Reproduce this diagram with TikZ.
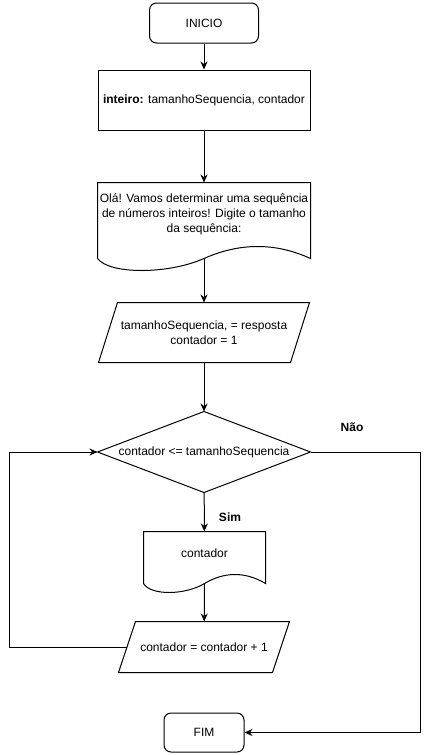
\documentclass[tikz,border=0pt]{standalone}
\usepackage{fontspec}
\setmainfont{Liberation Sans}
\usetikzlibrary{arrows.meta}

\begin{document}
\begin{tikzpicture}[x=1pt, y=-1pt,
                    line width=1pt,
                    every node/.style={font=\fontsize{12}{15}\selectfont, align=center},
                    terminal/.style={draw, rounded corners=7pt, minimum width=109pt, minimum height=40pt},
                    procbox/.style={draw, minimum width=212pt, minimum height=60pt},
                    shapebox/.style 2 args={minimum width=#1, minimum height=#2, inner sep=0pt},
                    flow/.style={-{Stealth[length=8pt, width=7pt]}}]
      \useasboundingbox (0,0) rectangle (430,755);
      \coordinate (back) at (9, 647);
      \coordinate (right) at (420, 452);
      \node[terminal] (inicio) at (204, 23) {INICIO};
      \node[procbox] (decl) at (204, 100) {\textbf{inteiro:} tamanhoSequencia, contador};
      \node[shapebox={212pt}{75pt}] (msg) at (204, 220.5) {};
      \node (msgtext) at (204, 214) {Olá! Vamos determinar uma sequência\\de números inteiros! Digite o tamanho\\da sequência:};
      \node[shapebox={191pt}{59pt}] (inp) at (204, 332.5) {tamanhoSequencia, = resposta\\contador = 1};
      \node[shapebox={212pt}{80pt}] (cond) at (204, 452) {contador <= tamanhoSequencia};
      \node[shapebox={121pt}{51pt}] (out) at (204.5, 557.5) {};
      \node (outtext) at (204.5, 553) {contador};
      \node[shapebox={153pt}{50pt}] (inc) at (204, 647) {contador = contador + 1};
      \node[terminal, minimum width=80pt, minimum height=39pt] (fim) at (204, 732.5) {FIM};
      \node (nao) at (352, 427) {\textbf{Não}};
      \node (sim) at (230, 517) {\textbf{Sim}};
      % document shapes
      \draw (msg.south west) -- (msg.north west) -- (msg.north east) -- (msg.south east)
            .. controls +(-35,-16) and +(36,-16) .. (msg.south)
            .. controls +(-36,16) and +(12,16) .. (msg.south west);
      \draw (out.south west) -- (out.north west) -- (out.north east) -- (out.south east)
            .. controls +(-20,-12) and +(20,-12) .. (out.south)
            .. controls +(-20,12) and +(7,12) .. (out.south west);
      % input shapes
      \draw ([xshift=9.5pt]inp.north west) -- ([xshift=9.5pt]inp.north east)
            -- ([xshift=-9.5pt]inp.south east) -- ([xshift=-9.5pt]inp.south west) -- cycle;
      \draw ([xshift=8.5pt]inc.north west) -- ([xshift=8.5pt]inc.north east)
            -- ([xshift=-8.5pt]inc.south east) -- ([xshift=-8.5pt]inc.south west) -- cycle;
      % decision
      \draw (cond.north) -- (cond.east) -- (cond.south) -- (cond.west) -- cycle;
      % connectors
      \draw[flow] (inicio) -- (decl);
      \draw[flow] (decl) -- (msg);
      \draw[flow] (msg.south) -- (inp);
      \draw[flow] (inp) -- (cond);
      \draw[flow] (cond) -- (out);
      \draw[flow] (out.south) -- (inc);
      \draw[flow] (inc.west) -- (back) |- (cond.west);
      \draw[flow] (cond.east) -- (right) |- (fim.east);
\end{tikzpicture}
\end{document}
